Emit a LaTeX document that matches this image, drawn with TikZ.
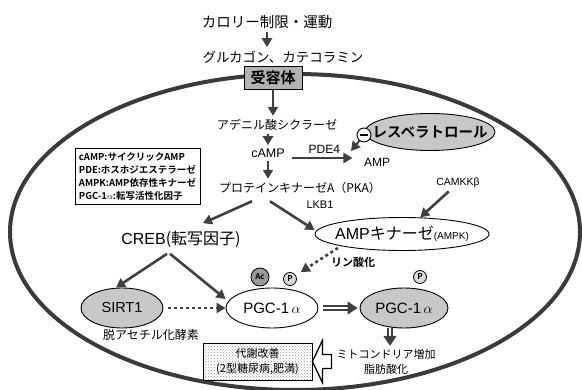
\documentclass[tikz,border=0pt]{standalone}
\usepackage{fontspec}
\setmainfont{Noto Sans CJK JP}[BoldFont={Noto Sans CJK JP Bold}]
\newfontfamily\lat{Liberation Sans}
\usetikzlibrary{arrows.meta,shapes.geometric,patterns}
\definecolor{wallgray}{HTML}{3A3A3A}
\definecolor{arrgray}{HTML}{404040}
\definecolor{cellfill}{HTML}{C8C8C8}
\newcommand{\fsz}[1]{\fontsize{#1}{#1}\selectfont}
\newcommand{\zw}[1]{\makebox[0pt]{#1}}

\begin{document}
\begin{tikzpicture}[x=1pt,y=-1pt,
    arr/.style={draw=arrgray,line width=2.6pt,-{Triangle[length=9pt,width=10pt]}},
    dotarr/.style={arr,dash pattern=on 3pt off 3pt},
    dblarr/.style={draw=arrgray,double=white,double distance=2.5pt,line width=1.6pt,-{Triangle[length=10pt,width=13pt]}},
    gel/.style={ellipse,draw,line width=0.9pt,inner sep=0pt,fill=cellfill},
    wel/.style={ellipse,draw,line width=0.9pt,inner sep=0pt,fill=white},
    tagc/.style={circle,draw,line width=0.8pt,inner sep=0pt,font=\bfseries\fsz{8}}]
  \useasboundingbox (0,0) rectangle (582,390);
  % cell
  \draw[wallgray,line width=4pt] (295,232) ellipse [x radius=285pt,y radius=158pt];
  % top
  \node[font=\fsz{14.5}] (diet) at (267,22) {カロリー制限・運動};
  \node[font=\fsz{13.5}] (hormone) at (283,57) {グルカゴン、カテコラミン};
  \node[draw,line width=1pt,fill=black!30,minimum width=58pt,minimum height=23pt,inner sep=0pt,font=\bfseries\fsz{15}] (receptor) at (273,78) {受容体};
  \node[font=\fsz{12}] (adcyc) at (277,125) {アデニル酸シクラーゼ};
  \node[font=\lat\fsz{12.5}] (camp) at (268,153) {cAMP};
  \node[font=\fsz{12}] (pka) at (300,188) {プロテインキナーゼA（PKA）};
  \node[font=\lat\fsz{12}] (amp) at (377,162) {AMP};
  \node[gel,minimum width=130pt,minimum height=37pt,font=\bfseries\fsz{14.5}] (resv) at (430,132) {\zw{レスベラトロール}};
  \node[circle,draw,fill=white,line width=0.9pt,minimum size=14pt,inner sep=0pt] (minus) at (364,135) {\rule{8pt}{1.3pt}};
  \coordinate (pdetip) at (351,151);
  % legend
  \node[draw,line width=0.8pt,align=left,inner sep=4pt,font=\bfseries\fontsize{9.5}{13}\selectfont] (legend) at (137.5,176.5)
    {cAMP:サイクリックAMP\\PDE:ホスホジエステラーゼ\\AMPK:AMP依存性キナーゼ\\PGC-1$\alpha$:転写活性化因子};
  % middle
  \node[font=\lat\fsz{10.5}] (camkk) at (458,183) {CAMKKβ};
  \node[font=\lat\fsz{11}] (lkb) at (320,205) {LKB1};
  \node[font=\fsz{16}] (creb) at (181,239) {{\lat CREB}(転写因子)};
  \node[wel,minimum width=174pt,minimum height=33pt] (ampk) at (402,234) {\zw{{\lat\fsz{16}AMP}{\fsz{16}キナーゼ}{\lat\fsz{10}(AMPK)}}};
  \node[gel,minimum width=82pt,minimum height=40pt,font=\lat\fsz{14.5}] (sirt) at (122,308) {SIRT1};
  \node[font=\fsz{12}] (deac) at (151,335) {脱アセチル化酵素};
  \node[wel,minimum width=92pt,minimum height=40pt,font=\lat\fsz{15}] (pgcA) at (272,308) {PGC-1\,$\alpha$};
  \node[gel,minimum width=88pt,minimum height=40pt,font=\lat\fsz{15}] (pgcB) at (404,308) {PGC-1\,$\alpha$};
  \node[tagc,fill=black!40,minimum size=18pt] (acet) at (260,277) {Ac};
  \node[tagc,fill=black!15,minimum size=13pt] (phosA) at (290,279) {P};
  \node[tagc,fill=black!15,minimum size=13pt] (phosB) at (420,277) {P};
  \node[font=\bfseries\fsz{11}] (phos) at (353,262) {リン酸化};
  % bottom
  \node[font=\fontsize{11}{15}\selectfont,align=center] (mito) at (386,362) {ミトコンドリア増加\\脂肪酸化};
  \node[draw,line width=0.8pt,pattern=crosshatch dots,pattern color=black!40,minimum width=109pt,minimum height=37pt,align=center,font=\fontsize{11}{15}\selectfont] (outcome) at (257.5,361.5) {代謝改善\\(2型糖尿病,肥満)};
  % arrows
  \draw[arr] (diet) -- (hormone.north -| diet);
  \draw[arr] (receptor) -- (adcyc.north -| receptor);
  \draw[arr] (adcyc.south -| camp) -- (camp);
  \draw[arr] (camp) -- (pka.north -| camp);
  \draw[arr,shorten <=4pt,shorten >=8pt] ([yshift=-5pt]camp.east) -- node[above,font=\lat\fsz{12}] (pdelbl) {PDE4} ([yshift=-5pt]camp.east -| amp.west);
  \draw[arr,line width=2pt] (minus) -- (pdetip);
  \draw[arr] ([xshift=-48pt,yshift=-4pt]pka.south) -- ([xshift=22pt,yshift=4pt]creb.north);
  \draw[arr] ([xshift=-30pt,yshift=-4pt]pka.south) -- ([yshift=4pt]ampk.west);
  \draw[arr] (camkk) -- (ampk);
  \draw[arr] ([xshift=-14pt,yshift=-3pt]creb.south) -- ([xshift=-6pt]sirt.north);
  \draw[arr] ([xshift=-11pt,yshift=-3pt]creb.south) -- ([yshift=9pt]pgcA.west);
  \draw[dotarr,shorten <=5pt] (sirt) -- (pgcA);
  \draw[dotarr,shorten >=6pt] ([xshift=-64pt,yshift=3pt]ampk.south) -- (phosA);
  \draw[dblarr,shorten <=5pt,shorten >=2pt] (pgcA) -- (pgcB);
  \draw[dblarr] ([xshift=-14pt]pgcB.south) -- ([xshift=-14pt]pgcB.south |- mito.north);
  % hollow arrow into the box
  \draw[draw=black,line width=1.3pt,fill=white,line join=miter] (outcome.east) -- ++(10,-21) -- ++(0,14) -- ++(9,0) -- ++(0,14) -- ++(-9,0) -- ++(0,14) -- cycle;
\end{tikzpicture}
\end{document}
